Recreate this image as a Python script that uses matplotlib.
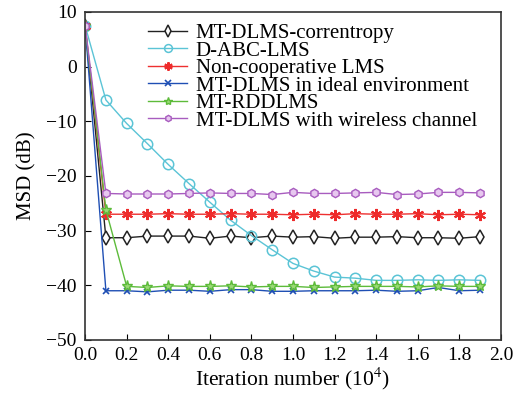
import matplotlib
matplotlib.use('Agg')
import matplotlib.pyplot as plt
import numpy as np

plt.rcParams['font.family'] = ['Liberation Serif', 'DejaVu Serif']
plt.rcParams['mathtext.fontset'] = 'stix'

# iteration axis (x 10^4)
iters = [0.0, 0.1, 0.2, 0.3, 0.4, 0.5, 0.6, 0.7, 0.8, 0.9, 1.0,
         1.1, 1.2, 1.3, 1.4, 1.5, 1.6, 1.7, 1.8, 1.9]

msd_corr = [7.5, -31.3, -31.3, -31.0, -31.0, -31.0, -31.4, -31.0, -31.3, -31.0, -31.2,
            -31.1, -31.4, -31.2, -31.2, -31.1, -31.3, -31.3, -31.4, -31.1]
msd_abc = [7.5, -6.1, -10.4, -14.1, -17.9, -21.4, -24.8, -28.1, -30.9, -33.5, -36.0,
           -37.4, -38.5, -38.7, -39.1, -39.1, -39.0, -39.1, -39.0, -39.1]
msd_noncoop = [7.5, -27.0, -27.0, -27.0, -26.9, -27.0, -27.0, -26.9, -27.0, -27.0, -27.1,
               -27.0, -27.1, -26.9, -27.0, -27.0, -26.9, -27.1, -27.0, -27.1]
msd_ideal = [7.5, -41.0, -41.0, -41.2, -40.9, -40.9, -41.1, -40.8, -40.8, -41.1, -41.1,
             -41.0, -41.0, -41.0, -40.9, -41.1, -41.0, -40.4, -41.0, -40.9]
msd_rdd = [7.5, -26.2, -40.2, -40.4, -40.1, -40.2, -40.2, -40.1, -40.3, -40.2, -40.2,
           -40.4, -40.3, -40.2, -40.2, -40.2, -40.3, -40.1, -40.2, -40.2]
msd_wireless = [7.5, -23.2, -23.3, -23.3, -23.3, -23.2, -23.1, -23.2, -23.2, -23.4, -23.0,
                -23.2, -23.2, -23.1, -23.0, -23.4, -23.3, -23.0, -23.0, -23.1]

labels = ['MT-DLMS-correntropy', 'D-ABC-LMS', 'Non-cooperative LMS',
          'MT-DLMS in ideal environment', 'MT-RDDLMS', 'MT-DLMS with wireless channel']

fig = plt.figure(figsize=(5.19, 3.99), dpi=100)
ax = fig.add_axes([0.164, 0.148, 0.801, 0.822])

lw = 1.0
ax.plot(iters, msd_corr, color='#222222', marker='d', mfc='white', mec='#222222', ms=7.5, mew=1.1, lw=lw, label=labels[0])
ax.plot(iters, msd_abc, color='#5bc4d6', marker='o', mfc='none', mec='#5bc4d6', ms=7.5, mew=1.1, lw=lw, label=labels[1])
ax.plot(iters, msd_noncoop, color='#ee3030', marker=(6, 2, 0), mec='#ee2b2b', ms=8, mew=1.5, lw=lw, label=labels[2])
ax.plot(iters, msd_ideal, color='#1f4fb4', marker='x', mec='#1f4fb4', ms=5, mew=1.2, lw=lw, label=labels[3])
ax.plot(iters, msd_rdd, color='#5dbb3a', marker='*', mfc='#9ad976', mec='#5dbb3a', ms=8, lw=lw, label=labels[4])
ax.plot(iters, msd_wireless, color='#a85cbf', marker='h', mfc='#e7c8ef', mec='#a85cbf', ms=6, lw=lw, label=labels[5])

ax.set_xlim(0, 2.0)
ax.set_ylim(-50, 10)
ax.set_xticks(np.arange(0, 2.01, 0.2))
ax.set_xticklabels(['%.1f' % t for t in np.arange(0, 2.01, 0.2)])
ax.set_yticks(np.arange(-50, 11, 10))
ax.tick_params(direction='in', length=4, labelsize=14, top=False, right=False)
ax.tick_params(axis='x', pad=5)
ax.tick_params(axis='y', pad=6)
for s in ax.spines.values():
    s.set_linewidth(1.2)
    s.set_color('#333333')

ax.set_xlabel('Iteration number (10$^4$)', fontsize=15.5, labelpad=1)
ax.set_ylabel('MSD (dB)', fontsize=15, labelpad=7)

ax.legend(loc='upper left', bbox_to_anchor=(0.151, 0.965), frameon=False, fontsize=15,
          handlelength=1.9, handletextpad=0.4, labelspacing=-0.1, borderpad=0,
          borderaxespad=0, markerscale=0.75)

fig.savefig('out.png', dpi=100)
